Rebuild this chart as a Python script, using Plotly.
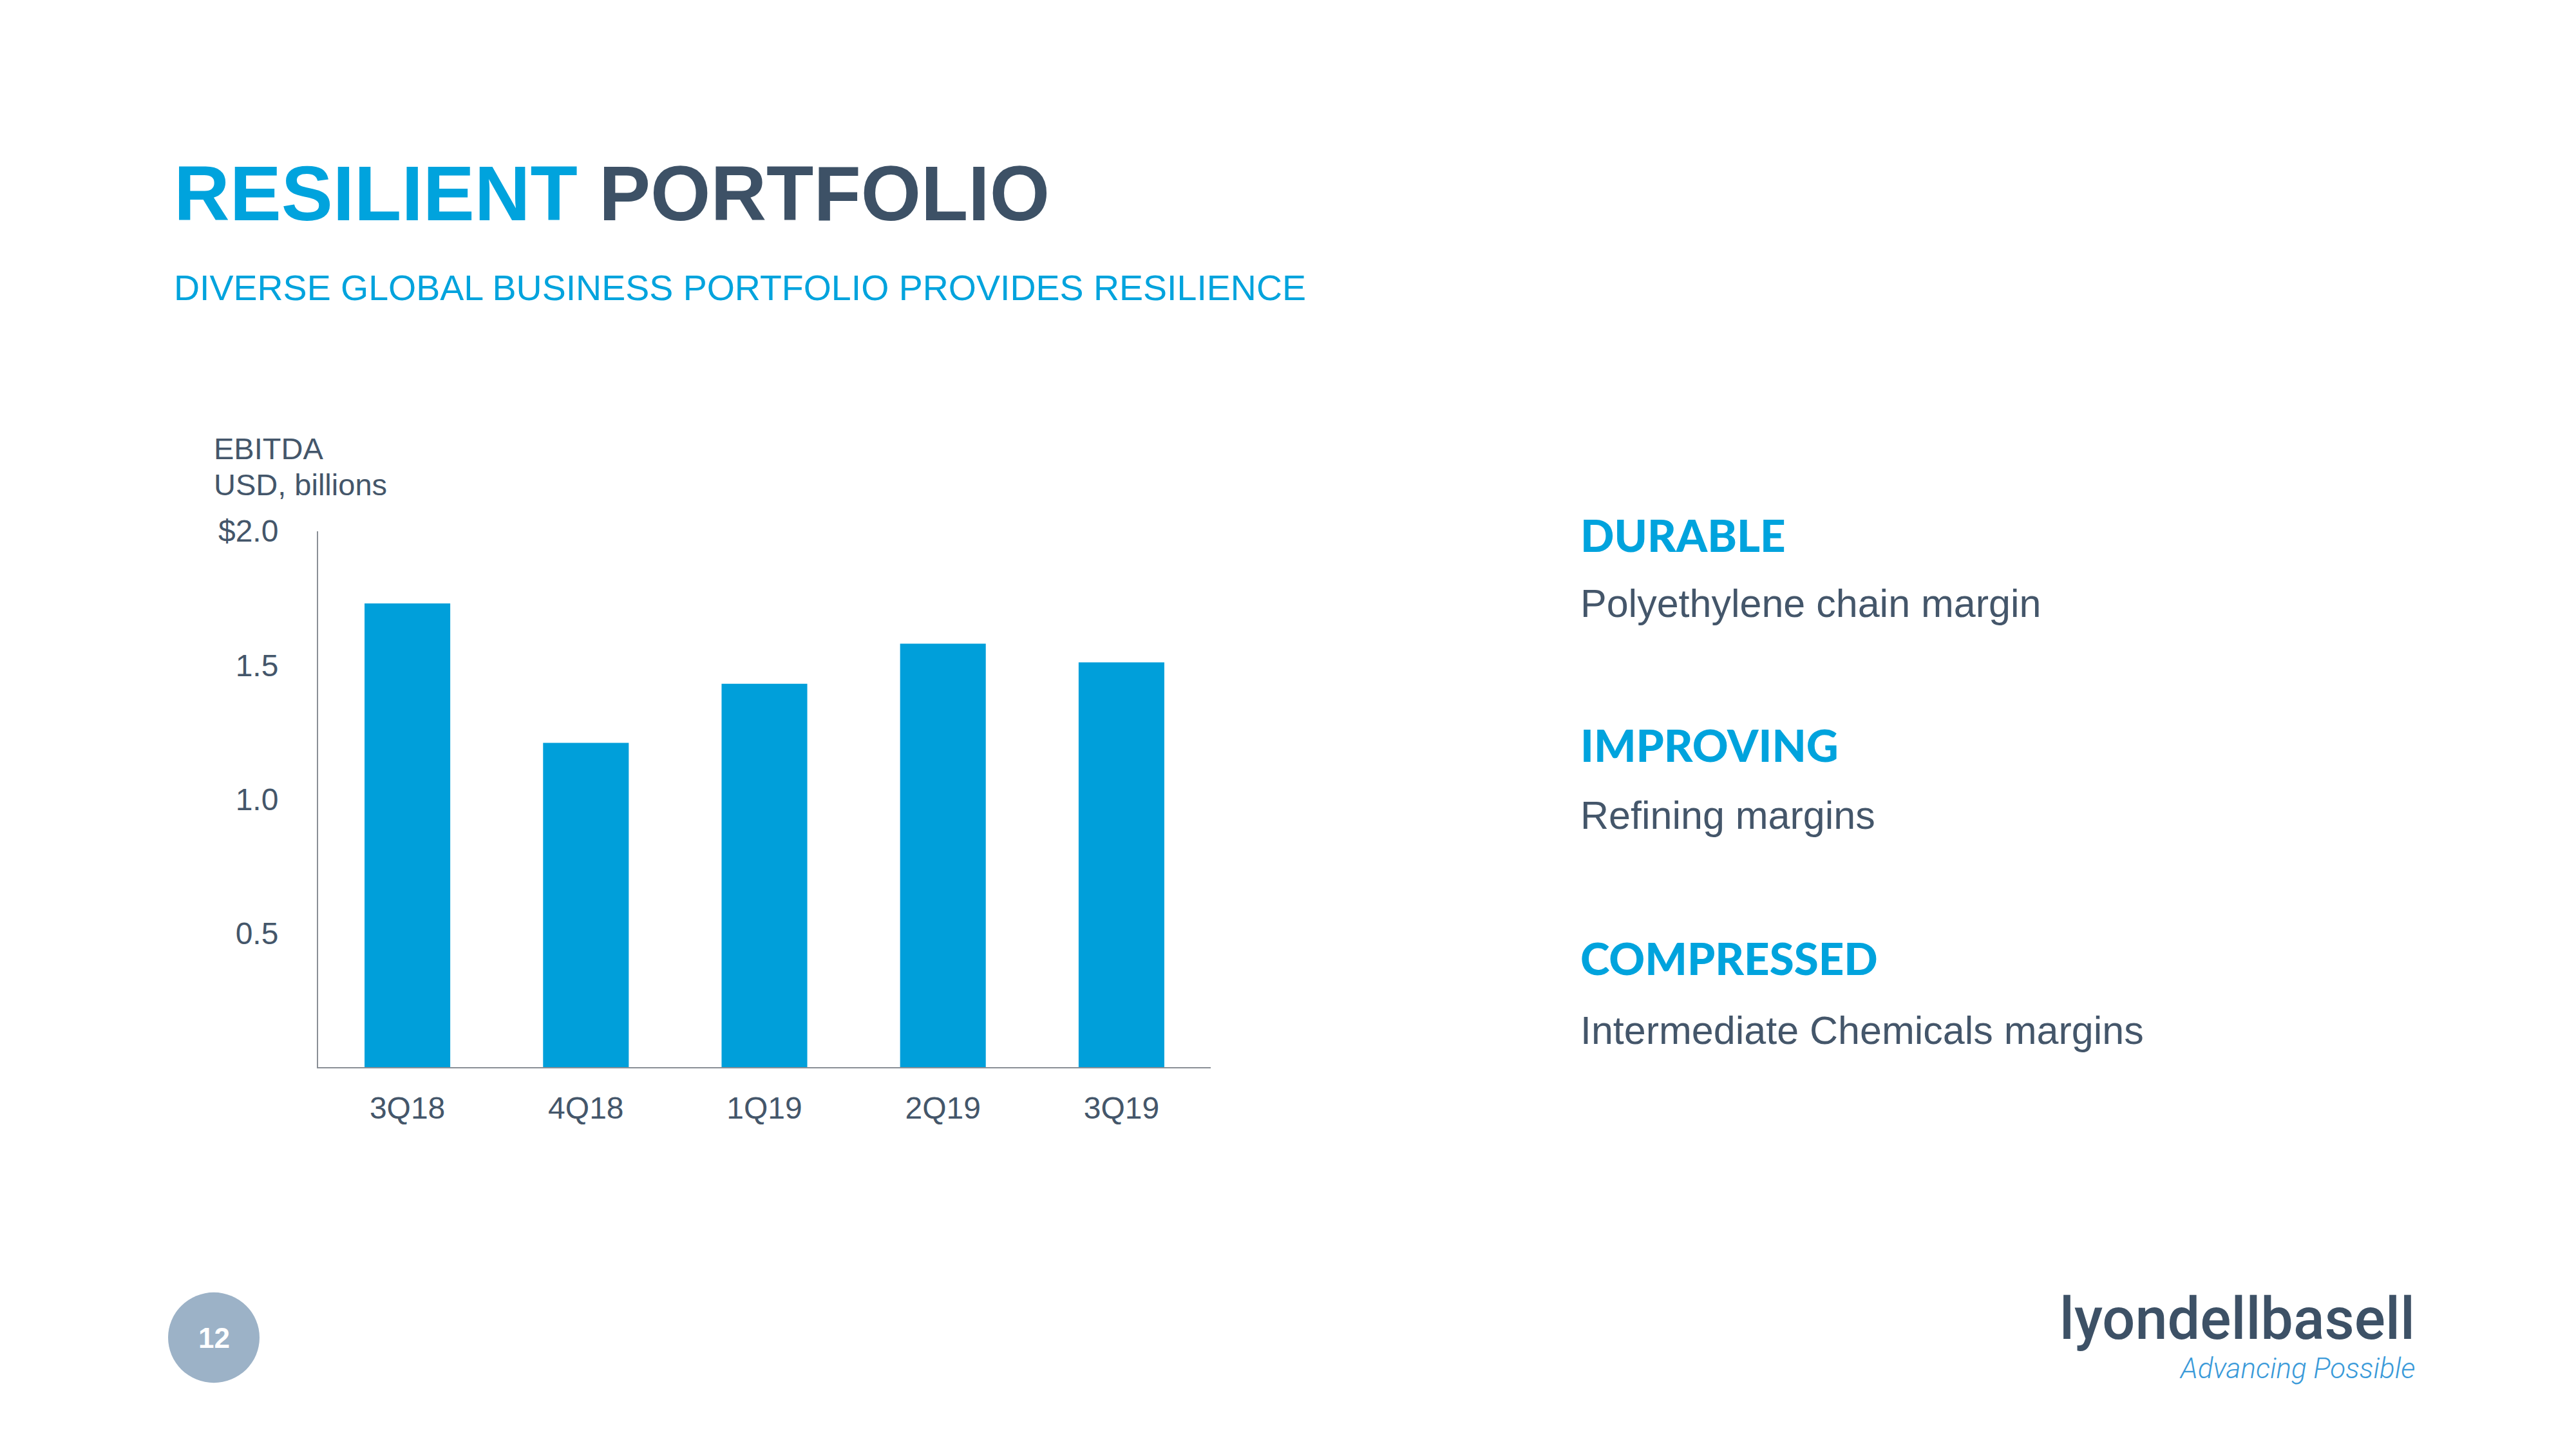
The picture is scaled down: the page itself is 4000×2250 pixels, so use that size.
import plotly.graph_objects as go

W, H = 4000, 2250

quarters = ["3Q18", "4Q18", "1Q19", "2Q19", "3Q19"]
ebitda = [1.73, 1.21, 1.43, 1.58, 1.51]
ytick_vals = [0.5, 1.0, 1.5, 2.0]
ytick_text = ["0.5", "1.0", "1.5", "$2.0"]

title_blue = "RESILIENT"
title_dark = "PORTFOLIO"
subtitle = "DIVERSE GLOBAL BUSINESS PORTFOLIO PROVIDES RESILIENCE"
axis_title = ["EBITDA", "USD, billions"]
points = [("DURABLE", "Polyethylene chain margin"),
          ("IMPROVING", "Refining margins"),
          ("COMPRESSED", "Intermediate Chemicals margins")]

BLUE = "#00A3DD"
BAR = "#009FDA"
DARK = "#3D5166"
TEXT = "#44566A"
AX = "#8A8F96"
FONT = "Liberation Sans, Arial, sans-serif"


def px(x):
    return x / W


def py(y):
    return 1 - y / H


fig = go.Figure()
fig.add_trace(go.Bar(x=quarters, y=ebitda, marker_color=BAR, width=0.48,
                     marker_line_width=0, showlegend=False))

fig.update_layout(
    width=W, height=H, margin=dict(l=0, r=0, t=0, b=0),
    paper_bgcolor="white", plot_bgcolor="white",
    font=dict(family=FONT, color=TEXT),
    xaxis=dict(domain=[px(494), px(1880)], range=[-0.5, 4.5],
               showline=True, linecolor=AX, linewidth=2, showgrid=False,
               ticks="", tickfont=dict(size=48, color=TEXT),
               ticklabelstandoff=20, anchor="y"),
    yaxis=dict(domain=[py(1650), py(808)], range=[0, 2.0],
               showline=True, linecolor=AX, linewidth=2, showgrid=False,
               zeroline=False, ticks="", tickvals=ytick_vals, ticktext=ytick_text,
               tickfont=dict(size=48, color=TEXT), ticklabelstandoff=50),
    bargap=0.52,
)

ann = []
ann.append(dict(x=px(268), y=py(277), xref="paper", yref="paper", xanchor="left", yanchor="middle",
                showarrow=False,
                text=f"<b><span style='color:{BLUE}'>{title_blue}</span> <span style='color:{DARK}'>{title_dark}</span></b>",
                font=dict(size=120, family=FONT)))
ann.append(dict(x=px(268), y=py(426), xref="paper", yref="paper", xanchor="left", yanchor="middle",
                showarrow=False, text=subtitle, font=dict(size=55.5, color=BLUE, family=FONT)))
ann.append(dict(x=px(330), y=py(678), xref="paper", yref="paper", xanchor="left", yanchor="middle",
                showarrow=False, text=axis_title[0], font=dict(size=47, color=TEXT, family=FONT)))
ann.append(dict(x=px(330), y=py(735), xref="paper", yref="paper", xanchor="left", yanchor="middle",
                showarrow=False, text=axis_title[1], font=dict(size=47, color=TEXT, family=FONT)))

head_y = [814, 1144, 1479]
body_y = [922, 1255, 1592]
for (h, b), hy, by in zip(points, head_y, body_y):
    ann.append(dict(x=px(2452), y=py(hy), xref="paper", yref="paper", xanchor="left", yanchor="middle",
                    showarrow=False, text=h,
                    font=dict(size=69, color=BLUE, family="Lato, DejaVu Sans, sans-serif", weight=900)))
    ann.append(dict(x=px(2452), y=py(by), xref="paper", yref="paper", xanchor="left", yanchor="middle",
                    showarrow=False, text=b, font=dict(size=61, color=TEXT, family=FONT)))

# page number
ann.append(dict(x=px(332), y=py(2075), xref="paper", yref="paper", xanchor="center", yanchor="middle",
                showarrow=False, text="<b>12</b>", font=dict(size=44, color="white", family=FONT)))
# logo
ann.append(dict(x=px(3752), y=py(2046), xref="paper", yref="paper", xanchor="right", yanchor="middle",
                showarrow=False, text="lyondellbasell",
                font=dict(size=90, color=DARK, family="Roboto, Liberation Sans, sans-serif", weight=500)))
ann.append(dict(x=px(3752), y=py(2124), xref="paper", yref="paper", xanchor="right", yanchor="middle",
                showarrow=False, text="<i>Advancing Possible</i>",
                font=dict(size=44, color="#3A9AD9", family="Roboto, Liberation Sans, sans-serif", weight=300)))

fig.update_layout(annotations=ann)
fig.add_shape(type="circle", xref="paper", yref="paper",
              x0=px(332 - 71), x1=px(332 + 71), y0=py(2075 + 71), y1=py(2075 - 71),
              fillcolor="#9CB2C7", line_width=0, layer="below")

fig.write_html("out.html")
